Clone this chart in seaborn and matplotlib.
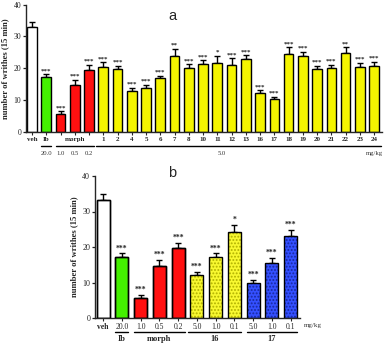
import numpy as np
import pandas as pd
import matplotlib
matplotlib.use("Agg")
import matplotlib.pyplot as plt
import matplotlib.transforms as mtransforms
import seaborn as sns

# ---------------- data: panel a ----------------
a_groups = ['veh', 'Ib', 'morph 1.0', 'morph 0.5', 'morph 0.2',
            '1', '2', '4', '5', '6', '7', '8', '10', '11', '12', '13',
            '16', '17', '18', '19', '20', '21', '22', '23', '24']
a_ticklabels = ['veh', 'Ib', '', 'morph', '',
                '1', '2', '4', '5', '6', '7', '8', '10', '11', '12', '13',
                '16', '17', '18', '19', '20', '21', '22', '23', '24']
a_values = [33.1, 17.2, 5.7, 14.8, 19.5, 20.5, 19.7, 12.8, 13.8, 17.0, 23.8, 20.1,
            21.2, 21.5, 21.0, 22.8, 12.3, 10.2, 24.4, 23.8, 19.6, 20.1, 24.7, 20.3, 20.7]
a_err = [1.6, 0.9, 0.8, 1.6, 1.5, 1.3, 1.1, 1.0, 0.9, 0.7, 2.4, 1.2,
         1.3, 2.4, 2.1, 1.3, 0.8, 0.8, 2.2, 1.4, 1.1, 0.9, 1.9, 1.4, 1.3]
a_sig = ['', '***', '***', '***', '***', '***', '***', '***', '***', '***', '**', '***',
         '***', '*', '***', '***', '***', '***', '***', '***', '***', '***', '**', '***', '***']
a_colors = ['#ffffff', '#44f000', '#ff1010', '#ff1010', '#ff1010'] + ['#f4f400'] * 20
a_doses = ['20.0', '1.0', '0.5', '0.2', '5.0']

# ---------------- data: panel b ----------------
b_groups = ['veh', 'Ib 20.0', 'morph 1.0', 'morph 0.5', 'morph 0.2',
            '16 5.0', '16 1.0', '16 0.1', '17 5.0', '17 1.0', '17 0.1']
b_ticklabels = ['veh', '20.0', '1.0', '0.5', '0.2', '5.0', '1.0', '0.1', '5.0', '1.0', '0.1']
b_values = [33.1, 17.25, 5.7, 14.7, 19.6, 12.0, 17.25, 24.3, 9.9, 15.5, 23.1]
b_err = [1.7, 0.95, 0.75, 1.6, 1.5, 0.9, 0.95, 1.8, 0.85, 1.4, 1.6]
b_sig = ['', '***', '***', '***', '***', '***', '***', '*', '***', '***', '***']
b_colors = ['#ffffff', '#44f000', '#ff1010', '#ff1010', '#ff1010',
            '#f8f830', '#f8f830', '#f8f830', '#3450ff', '#3450ff', '#3450ff']
b_dotcolors = [None, None, None, None, None,
               '#b0b000', '#b0b000', '#b0b000', '#1828a0', '#1828a0', '#1828a0']
b_groupnames = ['Ib', 'morph', '16', '17']

sns.set_style('ticks')
SERIF = ['Liberation Serif', 'DejaVu Serif']
plt.rcParams['font.family'] = SERIF
plt.rcParams['hatch.linewidth'] = 0.9

fig = plt.figure(figsize=(3.86, 3.45), dpi=100)
W, H = 386, 345


def ax_at(left, top, right, bottom):
    return fig.add_axes([left / W, 1 - bottom / H, (right - left) / W, (bottom - top) / H])


def style_axes(ax, tick_fs):
    for s in ['top', 'right']:
        ax.spines[s].set_visible(False)
    for s in ['left', 'bottom']:
        ax.spines[s].set_linewidth(1.0)
    ax.set_ylim(0, 40)
    ax.set_yticks([0, 10, 20, 30, 40])
    ax.tick_params(axis='y', length=2.5, width=0.9, pad=1, labelsize=tick_fs, colors='#222222')
    ax.tick_params(axis='x', length=2, width=0.8, pad=1.5)
    ax.set_xlabel('')


def errs_and_stars(ax, vals, errs, sigs, star_fs):
    x = np.arange(len(vals))
    ax.errorbar(x, vals, yerr=[np.zeros(len(vals)), errs], fmt='none', ecolor='black',
                elinewidth=1.0, capsize=2.2, capthick=1.0, zorder=1)
    for xi, v, e, s in zip(x, vals, errs, sigs):
        if s:
            ax.text(xi, v + e + 0.3, s, ha='center', va='bottom', fontsize=star_fs,
                    fontweight='bold', color='#222222')


# ================= panel a =================
axa = ax_at(26, 4.7, 382, 131.7)
dfa = pd.DataFrame({'group': a_groups, 'value': a_values})
sns.barplot(data=dfa, x='group', y='value', hue='group', palette=a_colors, legend=False,
            width=0.68, saturation=1, edgecolor='black', linewidth=1.0, ax=axa, zorder=2)
errs_and_stars(axa, a_values, a_err, a_sig, 5)
style_axes(axa, 5.5)
axa.set_xlim(-0.42, len(a_groups) - 0.45)
axa.set_xticks(np.arange(len(a_groups)))
axa.set_xticklabels(a_ticklabels, fontsize=5, fontweight='bold')
axa.set_ylabel('number of writhes (15 min)', fontsize=6.2, fontweight='bold', labelpad=3)

ta = mtransforms.blended_transform_factory(axa.transData, axa.transAxes)
ya_line = -0.11
ya_dose = -0.175
for x0, x1 in [(0.6, 1.35), (1.65, 4.35), (4.5, 24.5)]:
    axa.plot([x0, x1], [ya_line, ya_line], color='black', lw=1.0, transform=ta, clip_on=False)
for xi, d in zip([1, 2, 3, 4, 13.3], a_doses):
    axa.text(xi, ya_dose, d, transform=ta, ha='center', va='center', fontsize=4.8, color='#333333')
axa.text(24.0, ya_dose, 'mg/kg', transform=ta, ha='center', va='center', fontsize=4.8, color='#333333')
fig.text(172 / W, 1 - 16 / H, 'a', fontsize=10.5, family=['Liberation Sans', 'DejaVu Sans'],
         ha='center', va='center')

# ================= panel b =================
axb = ax_at(95, 176, 300, 318)
dfb = pd.DataFrame({'group': b_groups, 'value': b_values})
sns.barplot(data=dfb, x='group', y='value', hue='group', palette=b_colors, legend=False,
            width=0.7, saturation=1, edgecolor='black', linewidth=1.0, ax=axb, zorder=2)
bars = [p for p in axb.patches]
for p, dc in zip(bars, b_dotcolors):
    if dc is not None:
        p.set_hatch('.....')
        p.set_edgecolor(dc)
        p.set_linewidth(0)
# black outlines on top of the dotted bars
sns.barplot(data=dfb, x='group', y='value', color='black', fill=False,
            width=0.7, linewidth=1.0, ax=axb, zorder=3, errorbar=None)
errs_and_stars(axb, b_values, b_err, b_sig, 5.5)
style_axes(axb, 5.8)
axb.set_xlim(-0.43, len(b_groups) - 0.5)
axb.set_xticks(np.arange(len(b_groups)))
axb.set_xticklabels(b_ticklabels, fontsize=5.5)
axb.get_xticklabels()[0].set_fontweight('bold')
axb.set_ylabel('number of writhes (15 min)', fontsize=6.2, fontweight='bold', labelpad=3)

tb = mtransforms.blended_transform_factory(axb.transData, axb.transAxes)
yb_line = -0.10
yb_name = -0.145
for (x0, x1), name in zip([(0.65, 1.35), (1.65, 4.35), (4.55, 7.35), (7.65, 10.35)], b_groupnames):
    axb.plot([x0, x1], [yb_line, yb_line], color='black', lw=1.0, transform=tb, clip_on=False)
    axb.text((x0 + x1) / 2, yb_name, name, transform=tb, ha='center', va='center',
             fontsize=6, fontweight='bold')
axb.text(11.2, -0.055, 'mg/kg', transform=tb, ha='center', va='center', fontsize=5, color='#333333')
fig.text(172 / W, 1 - 173 / H, 'b', fontsize=10.5, family=['Liberation Sans', 'DejaVu Sans'],
         ha='center', va='center')

fig.savefig('out.png', dpi=100)
